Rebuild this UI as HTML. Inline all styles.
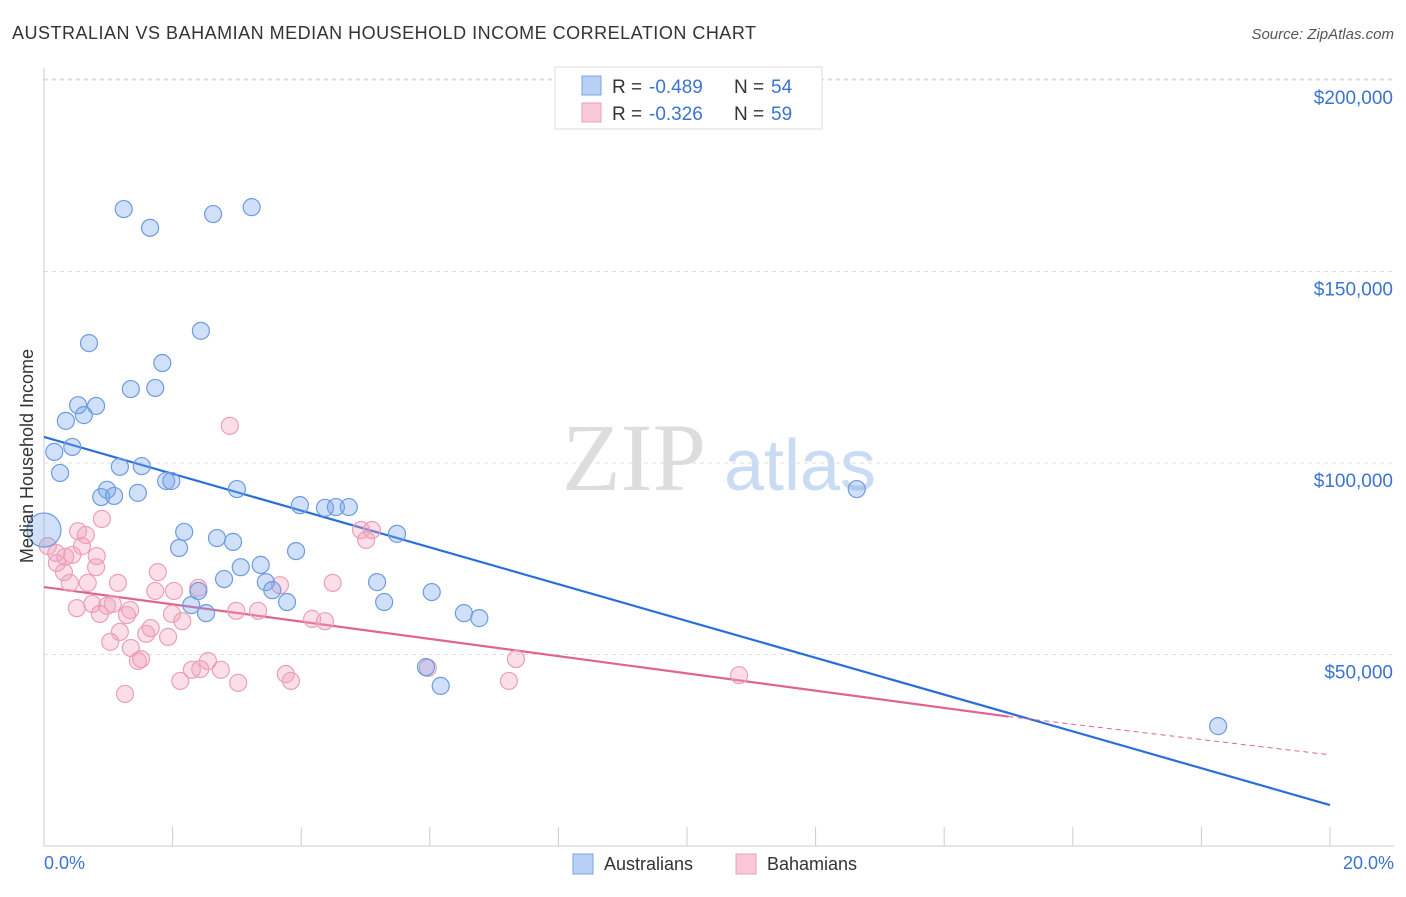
<!DOCTYPE html>
<html><head><meta charset="utf-8"><style>
body{margin:0;background:#fff;font-family:"Liberation Sans",sans-serif}
</style></head><body>
<svg width="1406" height="892" xmlns="http://www.w3.org/2000/svg" font-family="Liberation Sans, sans-serif">
<text x="12" y="39" font-size="18" fill="#333" textLength="744" lengthAdjust="spacing">AUSTRALIAN VS BAHAMIAN MEDIAN HOUSEHOLD INCOME CORRELATION CHART</text>
<text x="1394" y="39" font-size="15" fill="#555" font-style="italic" text-anchor="end">Source: ZipAtlas.com</text>
<g>
<text x="634" y="490" font-size="96" fill="#ddd" font-family="Liberation Serif, serif" text-anchor="middle">ZIP</text>
<text x="800" y="490" font-size="72" fill="#c9dcf3" text-anchor="middle">atlas</text>
</g>
<g id="grid"></g>
<g id="axes"></g>
<g id="lines"></g>
<g id="pts"></g>
<text x="33" y="456" font-size="18" fill="#333" text-anchor="middle" transform="rotate(-90 33 456)">Median Household Income</text>
<text x="44" y="869" font-size="18" fill="#3a74d0">0.0%</text>
<text x="1394" y="869" font-size="18" fill="#3a74d0" text-anchor="end">20.0%</text>
<g>
<rect x="555" y="67" width="267" height="62" fill="#fff" stroke="#ddd"/>
<rect x="582" y="76" width="19" height="19" fill="#b8d0f4" stroke="#7aa3e4"/>
<rect x="582" y="103" width="19" height="19" fill="#f9c8d8" stroke="#eaa0ba"/>
<text x="612" y="93" font-size="19" fill="#333">R =</text>
<text x="649" y="93" font-size="19" fill="#3a74d0">-0.489</text>
<text x="734" y="93" font-size="19" fill="#333">N =</text>
<text x="771" y="93" font-size="19" fill="#3a74d0">54</text>
<text x="612" y="120" font-size="19" fill="#333">R =</text>
<text x="649" y="120" font-size="19" fill="#3a74d0">-0.326</text>
<text x="734" y="120" font-size="19" fill="#333">N =</text>
<text x="771" y="120" font-size="19" fill="#3a74d0">59</text>
</g>
<g>
<rect x="573" y="854" width="20" height="20" fill="#b8d0f4" stroke="#7aa3e4"/>
<text x="604" y="870" font-size="18" fill="#333">Australians</text>
<rect x="736" y="854" width="20" height="20" fill="#f9c8d8" stroke="#eaa0ba"/>
<text x="767" y="870" font-size="18" fill="#333">Bahamians</text>
</g>
</svg>
<script>
const yTicks=[50000,100000,150000,200000];
const yTickLabels=["$50,000","$100,000","$150,000","$200,000"];
const xTicks=[0,2,4,6,8,10,12,14,16,18,20];
const ausX=[1.24,1.65,2.63,3.23,0.70,2.44,1.84,1.35,1.73,0.53,0.81,0.34,0.62,0.16,0.44,0.25,1.18,1.52,0.98,0.89,1.09,1.46,1.90,1.98,3.00,3.98,4.37,4.54,4.74,12.64,2.18,2.10,2.69,2.94,3.92,5.49,3.37,3.06,2.80,3.45,3.55,3.78,5.18,5.29,6.03,2.29,2.52,6.53,6.77,5.94,6.17,18.26,2.40,0];
const ausY=[166.3,161.4,165.0,166.8,131.3,134.5,126.1,119.3,119.6,115.1,114.9,111.0,112.5,102.9,104.2,97.4,99.0,99.2,93.0,91.1,91.4,92.2,95.3,95.3,93.2,89.0,88.3,88.5,88.5,93.2,82.0,77.8,80.4,79.4,77.0,81.5,73.4,72.8,69.7,68.9,66.8,63.7,68.9,63.7,66.3,62.9,60.8,60.8,59.5,46.7,41.8,31.3,66.6,82.5];
const bahX=[2.89,0.90,0.53,0.65,0.59,0.06,0.19,0.33,0.44,0.82,0.20,0.31,0.81,1.77,0.68,1.15,2.02,2.40,1.73,0.40,0.51,0.75,0.98,1.07,1.34,0.87,1.29,1.99,2.15,2.99,3.33,3.67,4.49,4.17,4.37,4.93,5.10,5.01,1.18,1.59,1.66,1.93,1.03,1.35,1.46,1.51,2.55,2.30,2.43,2.75,2.12,3.02,3.76,3.84,1.26,5.97,7.34,7.23,10.81];
const bahY=[109.7,85.4,82.2,81.2,78.3,78.3,76.5,75.5,76.0,75.7,73.9,71.5,72.8,71.5,68.7,68.7,66.6,67.4,66.6,68.7,62.1,63.2,62.7,63.2,61.6,60.6,60.3,60.6,58.7,61.4,61.4,68.1,68.7,59.3,58.7,82.5,82.5,79.9,55.9,55.4,56.9,54.6,53.3,51.7,48.3,48.8,48.3,46.0,46.2,46.0,43.1,42.6,44.9,43.1,39.7,46.5,48.8,43.1,44.6];
const ausLine=[[0,106.8],[20,10.7]];
const bahLine=[[0,67.6],[15,33.8],[20,23.8]];
const NS="http://www.w3.org/2000/svg";
const X=v=>44+v/20*1286;
const Y=v=>846-v/50000*191.5;
const Yk=v=>Y(v*1000);
function mk(t,a,p){const e=document.createElementNS(NS,t);for(const k in a)e.setAttribute(k,a[k]);document.getElementById(p).appendChild(e);return e;}
mk('line',{x1:44,x2:1394,y1:79,y2:79,stroke:'#ddd','stroke-dasharray':'4,4'},'grid');
yTicks.forEach((v,i)=>{
 const l=mk('line',{x1:44,x2:1394,y1:Y(v),y2:Y(v),stroke:'#ddd','stroke-dasharray':'4,4'},'grid');
 
 
 const t=mk('text',{x:1393,y:Y(v)+24,'font-size':19,fill:'#3a74d0','text-anchor':'end'},'grid');
 t.textContent=yTickLabels[i];
 
 
});
const ax=mk('line',{x1:44,x2:1394,y1:846,y2:846,stroke:'#ccc'},'axes');


const ay=mk('line',{x1:44,x2:44,y1:68,y2:846,stroke:'#ccc'},'axes');


xTicks.forEach(v=>{
 const t=mk('line',{x1:X(v),x2:X(v),y1:827,y2:846,stroke:'#ccc'},'axes');
 
 
});
function pts(xs,ys,fill,stroke,name){
 xs.forEach((x,i)=>{
  const big=(name==='australian-point'&&i===xs.length-1);
  const c=mk('circle',{cx:X(x),cy:Yk(ys[i]),r:big?17:8.5,fill:fill,stroke:stroke,'stroke-width':1.2},'pts');
  
  
 });
}
pts(bahX,bahY,'rgba(244,160,190,0.35)','#eaa0ba','bahamian-point');
pts(ausX,ausY,'rgba(120,165,235,0.35)','#6e9be0','australian-point');
const bl=mk('line',{x1:X(ausLine[0][0]),y1:Yk(ausLine[0][1]),x2:X(ausLine[1][0]),y2:Yk(ausLine[1][1]),stroke:'#2a6fd6','stroke-width':2.2},'lines');


const pl=mk('line',{x1:X(bahLine[0][0]),y1:Yk(bahLine[0][1]),x2:X(bahLine[1][0]),y2:Yk(bahLine[1][1]),stroke:'#e0648e','stroke-width':2.2},'lines');


const pd=mk('line',{x1:X(bahLine[1][0]),y1:Yk(bahLine[1][1]),x2:X(bahLine[2][0]),y2:Yk(bahLine[2][1]),stroke:'#e0648e','stroke-width':1,'stroke-dasharray':'5,4'},'lines');


</script>
</body></html>
